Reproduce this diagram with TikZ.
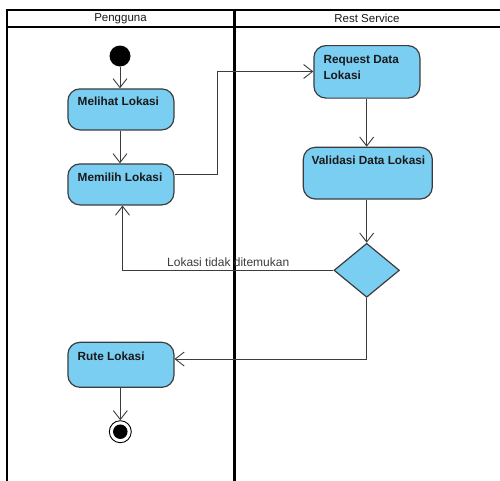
\documentclass[tikz,border=0pt]{standalone}
\usepackage{fontspec}
\setmainfont{Liberation Sans}
\usetikzlibrary{arrows.meta,shapes.geometric}
\definecolor{actfill}{RGB}{122,206,242}
\definecolor{actline}{RGB}{60,60,60}
\definecolor{txt}{RGB}{25,25,25}
\tikzset{
  lane/.style={line width=2.2pt, black},
  actbox/.style={draw=actline, fill=actfill, line width=1.2pt, rounded corners=12pt, inner sep=0pt, anchor=north west},
  acttext/.style={font=\fontsize{11.8}{13}\selectfont\bfseries, text=txt, inner sep=0pt, anchor=base west},
  flow/.style={draw=actline, line width=0.9pt, -{Straight Barb[length=9pt,width=14pt,line width=0.9pt]}},
  hdr/.style={font=\fontsize{11.5}{13}\selectfont, text=txt, inner sep=0pt},
}
\begin{document}
\begin{tikzpicture}[x=1pt,y=-1pt]
\useasboundingbox (0,0) rectangle (500,480);
% swimlanes
\draw[lane] (520,10) -- (7,10) -- (7,490);
\draw[lane] (7,27) -- (520,27);
\draw[lane] (234.5,10) -- (234.5,490);
\node[hdr] (h1) at (120.5,18.5) {Pengguna};
\node[hdr] (h2) at (367,18.5) {Rest Service};
% initial
\node[circle, fill=black, minimum size=21pt, inner sep=0pt] (init) at (120,56) {};
% activities
\node[actbox, minimum width=106pt, minimum height=41pt] (melihat) at (67.3,88.3) {};
\node[acttext] (tmelihat) at (77.5,105.5) {Melihat Lokasi};
\node[actbox, minimum width=106pt, minimum height=41pt] (memilih) at (67.3,163.3) {};
\node[acttext] (tmemilih) at (77.5,181) {Memilih Lokasi};
\node[actbox, minimum width=106pt, minimum height=52.5pt] (request) at (313.3,45) {};
\node[acttext] (trequest) at (323.3,63) {Request Data};
\node[acttext] (trequest2) at (323.3,79.5) {Lokasi};
\node[actbox, minimum width=129pt, minimum height=51.7pt] (validasi) at (302.7,146.7) {};
\node[acttext] (tvalidasi) at (311.5,164.5) {Validasi Data Lokasi};
\node[draw=actline, fill=actfill, line width=1.2pt, diamond, minimum width=65.5pt, minimum height=54pt, inner sep=0pt, aspect=1.21] (dec) at (366.7,270.3) {};
\node[actbox, minimum width=106pt, minimum height=45pt] (rute) at (67.3,341.7) {};
\node[acttext] (trute) at (77.5,360) {Rute Lokasi};
% final
\node[circle, draw=black, line width=0.9pt, fill=white, minimum size=22pt, inner sep=0pt] (final) at (120.3,431.7) {};
\node[circle, fill=black, minimum size=14.5pt, inner sep=0pt] (finalin) at (final.center) {};
% flows
\draw[flow] (init) -- (melihat.north -| init);
\draw[flow] (melihat.south -| init) -- (memilih.north -| init);
\coordinate (c1) at (217.3,174);
\coordinate (c2) at (217.3,71.5);
\draw[flow] (memilih.east |- c1) -- (c1) -- (c2) -- (request.west |- c2);
\draw[flow] (request.south -| dec) -- (validasi.north -| dec);
\draw[flow] (validasi.south -| dec) -- (dec.north);
\coordinate (c3) at (122.5,270.3);
\draw[flow] (dec.west) -- (c3) -- (memilih.south -| c3);
\node[font=\fontsize{12}{13}\selectfont, text=txt!85, inner sep=0pt, anchor=base west] (lbl) at (167,266) {Lokasi tidak ditemukan};
\coordinate (c4) at (366.7,359);
\draw[flow] (dec.south) -- (c4) -- (rute.east |- c4);
\draw[flow] (rute.south -| final) -- (final.north);
\end{tikzpicture}
\end{document}
